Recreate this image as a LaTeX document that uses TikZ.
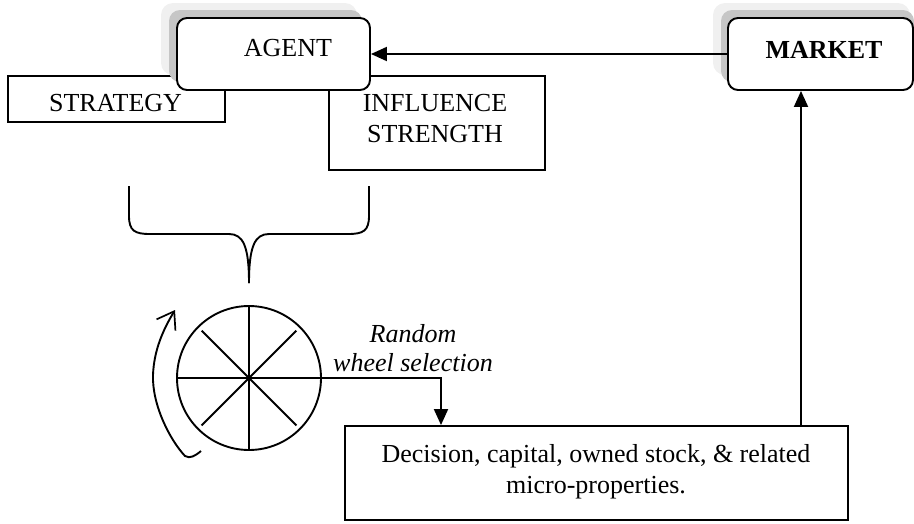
\documentclass[tikz,border=0pt]{standalone}
\usepackage{fontspec}
\setmainfont{Liberation Serif}
\usetikzlibrary{arrows.meta}
\begin{document}
\begin{tikzpicture}[x=1pt,y=-1pt,line width=1.9pt,
  every node/.style={font=\fontsize{26}{31}\selectfont},
  sqbox/.style={draw,fill=white,inner sep=0pt},
  rbox/.style={draw,fill=white,rounded corners=10pt,inner sep=0pt},
  shlight/.style={fill=gray!12,rounded corners=12pt},
  shdark/.style={fill=gray!45,rounded corners=11pt},
  txt/.style={inner sep=0pt,align=center},
  arr/.style={-{Triangle[width=14pt,length=16pt]}},
  barb/.style={-{Straight Barb[length=16pt,width=22pt,line width=1.7pt]}}]
\useasboundingbox (0,0) rectangle (914,523);
% lower boxes under AGENT
\node[sqbox,minimum width=217,minimum height=46] (strategy) at (116.5,99) {};
\node[txt] (strategyT) at (115.5,103) {STRATEGY};
\node[sqbox,minimum width=216,minimum height=94] (influence) at (437,123) {};
\node[txt] (influenceT) at (435,119) {INFLUENCE\\STRENGTH};
% AGENT with shadow
\fill[shlight] (161,3) rectangle (357,75);
\fill[shdark] (169,10) rectangle (362,82);
\node[rbox,minimum width=193,minimum height=72] (agent) at (273.5,54) {};
\node[txt] (agentT) at (288,48.5) {AGENT};
% MARKET with shadow
\fill[shlight] (713,3) rectangle (910,75);
\fill[shdark] (721,10) rectangle (914,82);
\node[rbox,minimum width=185,minimum height=72] (market) at (820.5,54) {};
\node[txt,font=\fontsize{26}{31}\selectfont\bfseries] (marketT) at (824,50) {MARKET};
% decision box
\node[sqbox,minimum width=503,minimum height=94] (decision) at (596.5,473) {};
\node[txt] (decisionT) at (596,472) {Decision, capital, owned stock, \& related\\micro-properties.};
% wheel
\node[draw,circle,minimum size=144pt,inner sep=0pt] (wheel) at (249,378) {};
\draw (wheel.north) -- (wheel.south);
\draw (wheel.west) -- (wheel.east);
\draw (wheel.center) -- ++(45:67pt);
\draw (wheel.center) -- ++(135:67pt);
\draw (wheel.center) -- ++(225:67pt);
\draw (wheel.center) -- ++(315:67pt);
% label
\node[txt,font=\fontsize{26}{29}\selectfont\itshape] (randT) at (413,348) {Random\\wheel selection};
% connectors
\coordinate (dx) at (441,426);
\draw[arr] (wheel.east) -| (decision.north -| dx);
\coordinate (mx) at (801,300);
\draw[arr] (decision.north -| mx) -- (market.south -| mx);
\draw[arr] (market.west) -- (agent.east);
% brace
\coordinate (bracetip) at (249,283);
\draw (129,186) -- (129,216) .. controls (129,231) and (135,234) .. (150,234) -- (229,234)
      .. controls (243,234) and (249,246) .. (bracetip);
\draw (369,186) -- (369,216) .. controls (369,231) and (363,234) .. (348,234) -- (269,234)
      .. controls (255,234) and (249,246) .. (bracetip);
% rotation arrow
\draw[barb] (201,451) .. controls (195,456) and (190,459) .. (185,456)
  .. controls (170,440) and (152,405) .. (153,375)
  .. controls (154,350) and (163,330) .. (175,310);
\end{tikzpicture}
\end{document}
